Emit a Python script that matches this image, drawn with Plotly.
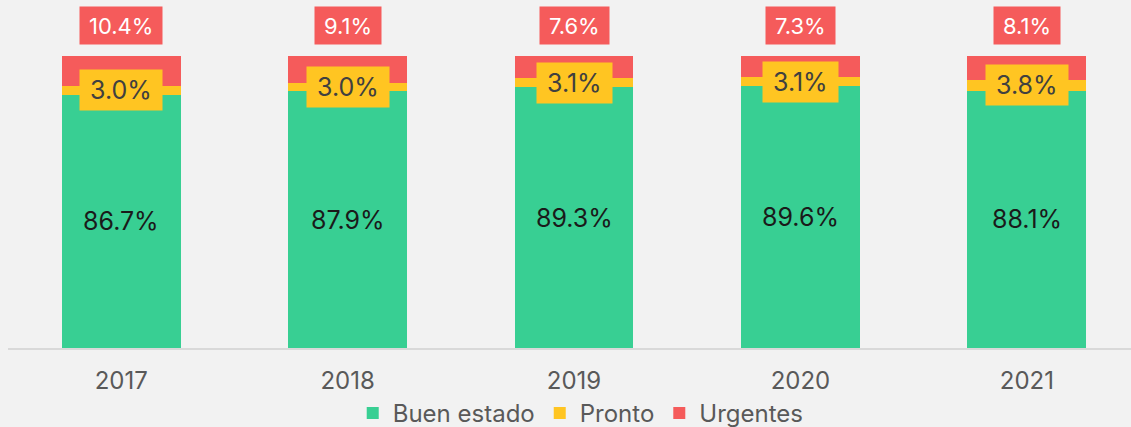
import plotly.graph_objects as go

years = ["2017", "2018", "2019", "2020", "2021"]
buen_estado = [86.7, 87.9, 89.3, 89.6, 88.1]
pronto = [3.0, 3.0, 3.1, 3.1, 3.8]
urgentes = [10.4, 9.1, 7.6, 7.3, 8.1]

GREEN = "#38CF93"
YELLOW = "#FFC522"
RED = "#F55B5B"
BG = "#F2F2F2"
FONT = "Inter, Roboto, sans-serif"

fig = go.Figure()
for name, vals, color in [
    ("Buen estado", buen_estado, GREEN),
    ("Pronto", pronto, YELLOW),
    ("Urgentes", urgentes, RED),
]:
    fig.add_trace(go.Bar(
        x=years, y=vals, name=name, width=0.525,
        marker=dict(color=color, line=dict(width=0)),
        hoverinfo="skip",
    ))

annotations = []
for i, yr in enumerate(years):
    g, p, r = buen_estado[i], pronto[i], urgentes[i]
    # green share, centred in its segment
    annotations.append(dict(
        x=i, y=g / 2, text=f"{g:.1f}%", showarrow=False,
        font=dict(family=FONT, size=25, color="#1A1A1A"),
        xanchor="center", yanchor="middle",
    ))
    # yellow share, boxed over its thin segment
    annotations.append(dict(
        x=i, y=g + p / 2, text=f"{p:.1f}%", showarrow=False,
        font=dict(family=FONT, size=25, color="#404040"),
        bgcolor=YELLOW, borderpad=10, height=20,
        xanchor="center", yanchor="middle",
    ))
    # red share, boxed above the bar
    annotations.append(dict(
        x=i, y=g + p + r, text=f"{r:.1f}%", showarrow=False,
        font=dict(family=FONT, size=22, color="#FFFFFF"),
        bgcolor=RED, borderpad=9, height=19,
        xanchor="center", yanchor="middle", yshift=30,
    ))

fig.update_layout(
    width=1131, height=427,
    barmode="stack",
    paper_bgcolor=BG, plot_bgcolor=BG,
    margin=dict(l=8, r=0, t=10, b=79, autoexpand=False),
    font=dict(family=FONT, size=24, color="#595959"),
    showlegend=True,
    legend=dict(
        orientation="h", traceorder="normal",
        x=0.51, xanchor="center", y=-0.127, yanchor="top",
        font=dict(family=FONT, size=24, color="#595959"),
        itemwidth=30, bgcolor="rgba(0,0,0,0)",
    ),
    xaxis=dict(
        type="category", range=[-0.5, 4.46],
        showline=True, linecolor="#D9D9D9", linewidth=2,
        showgrid=False, ticks="", ticklabelstandoff=10,
        tickfont=dict(size=24, color="#595959"),
    ),
    yaxis=dict(
        range=[0, 115.75], visible=False, showgrid=False, zeroline=False,
    ),
    annotations=annotations,
)

fig.write_html("out.html")
